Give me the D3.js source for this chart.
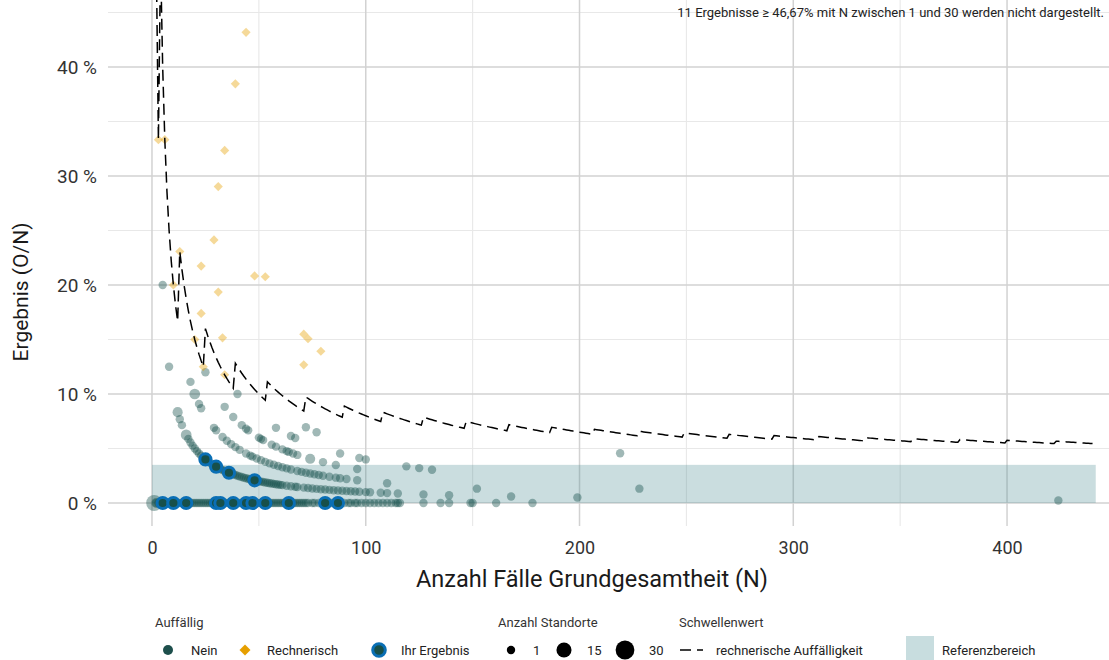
<!DOCTYPE html>
<html>
<head>
<meta charset="utf-8">
<script src="https://cdn.jsdelivr.net/npm/d3@7"></script>
<style>
  body { margin: 0; background: #fff; }
  svg { font-family: Roboto, "Noto Sans", sans-serif; }
</style>
</head>
<body>
<svg id="chart" width="1109" height="660"></svg>
<script>
// ---- data (N = cases, O = events) ----
// "Nein" results, one array per numerator O, listing N
var neinO0 = [2,3,4,6,7,8,9,11,12,13,14,15,17,18,19,20,21,22,23,24,25,26,27,28,29,31,33,34,35,36,37,39,40,41,42,43,45,46,48,49,50,51,52,54,55,56,57,58,59,60,61,62,63,65,66,67,68,69,70,71,72,73,75,76,78,80,82,84,85,88,90,92,93,95,96,98,100,102,104,106,108,110,112,114,115,116,127,135,139,149,150,161,178];
var neinO1 = [5,8,13,14,17,18,19,20,21,22,23,24,26,27,28,29,31,32,33,34,35,37,38,39,40,41,42,43,44,45,46,47,49,50,51,52,53,54,55,56,57,58,59,60,61,63,65,67,68,71,73,75,77,79,81,83,85,87,89,91,93,95,97,100,102,107,110,115,127,139,168,199,424];
var neinO2 = [18,22,23,29,30,33,35,37,39,41,44,46,47,49,51,53,55,57,59,61,63,65,68,70,72,74,76,78,80,83,86,88,91,96,110,152];
var neinO3 = [25,34,38,42,44,45,50,51,52,56,58,61,63,64,66,68,80,86,96,228];
var neinO4 = [40,58,65,67,88,97,100,119,125,131];
var neinO5 = [72,77];
// [N, O, Anzahl Standorte] for the remaining / larger points
var neinExtra = [[1,0,18],[2,0,3],[12,1,3],[16,1,4],[20,2,4],[74,3,3],[219,10,1]];

// "Rechnerisch" auffällige results [N, O]
var rechnerisch = [[3,1],[6,2],[10,2],[13,3],[20,3],[23,4],[23,5],[24,3],[29,7],[31,6],[31,9],[33,5],[34,4],[34,11],[39,15],[44,19],[48,10],[53,11],[71,9],[71,11],[73,11],[79,11]];

// "Ihr Ergebnis" [N, O]
var ihrErgebnis = [[5,0],[10,0],[16,0],[30,0],[32,0],[38,0],[44,0],[47,0],[53,0],[64,0],[81,0],[87,0],[25,1],[30,1],[36,1],[48,1]];

// Schwellenwert: critical count k valid from N = thresholdStartN[i]
var thresholdStartN = [1,4,13,25,39,54,72,90,108,127,147,167,187,207,228,249,270,291,312,334,356,378,400,423];
var thresholdK      = [1,2,3,4,5,6,7,8,9,10,11,12,13,14,15,16,17,18,19,20,21,22,23,24];
var thresholdMaxN = 440;

// Referenzbereich
var refRange = {xmin: 0, xmax: 441.5, ymin: 0, ymax: 0.035};

var xMajor = [0,100,200,300,400], xMinor = [50,150,250,350];
var yMajor = [0,0.1,0.2,0.3,0.4], yMinor = [0.05,0.15,0.25,0.35,0.45];

var sizeLegend = [1,15,30];
var noteText = "11 Ergebnisse \u2265 46,67% mit N zwischen 1 und 30 werden nicht dargestellt.";

// ---- build rows ----
var nein = [];
[neinO0, neinO1, neinO2, neinO3, neinO4, neinO5].forEach(function(arr, o) {
  arr.forEach(function(n) { nein.push({n: n, o: o, s: 1}); });
});
neinExtra.forEach(function(d) { nein.push({n: d[0], o: d[1], s: d[2]}); });

var thresh = [];
for (var n = 1; n <= thresholdMaxN; n++) {
  var i = d3.bisectRight(thresholdStartN, n) - 1;
  thresh.push({n: n, v: thresholdK[i] / n});
}

// ---- layout ----
var svg = d3.select("#chart");
var pLeft = 108, pRight = 1109, pTop = 0, pBottom = 526;

var x = d3.scaleLinear().domain([-20.58, 447.7]).range([pLeft, pRight]);
var y = d3.scaleLinear().domain([-0.0211, 0.4615]).range([pBottom, pTop]);
var r = d3.scaleSqrt().domain([1, 30]).range([4.2, 9.4]);

var teal = "#124e48", orange = "#E69F00", blue = "#0a6fb5";

svg.append("defs").append("clipPath").attr("id", "panel")
  .append("rect").attr("x", pLeft).attr("y", pTop)
  .attr("width", pRight - pLeft).attr("height", pBottom - pTop);

// grid
var grid = svg.append("g");
grid.selectAll(".gxm").data(xMinor).enter().append("line")
  .attr("x1", x).attr("x2", x).attr("y1", pTop).attr("y2", pBottom)
  .attr("stroke", "#e8e8e8").attr("stroke-width", 1.1);
grid.selectAll(".gym").data(yMinor).enter().append("line")
  .attr("x1", pLeft).attr("x2", pRight).attr("y1", y).attr("y2", y)
  .attr("stroke", "#e8e8e8").attr("stroke-width", 1.1);
grid.selectAll(".gx").data(xMajor).enter().append("line")
  .attr("x1", x).attr("x2", x).attr("y1", pTop).attr("y2", pBottom)
  .attr("stroke", "#d2d2d2").attr("stroke-width", 1.5);
grid.selectAll(".gy").data(yMajor).enter().append("line")
  .attr("x1", pLeft).attr("x2", pRight).attr("y1", y).attr("y2", y)
  .attr("stroke", "#d2d2d2").attr("stroke-width", 1.5);

var plot = svg.append("g").attr("clip-path", "url(#panel)");

// Referenzbereich
plot.append("rect")
  .attr("x", x(refRange.xmin)).attr("width", x(refRange.xmax) - x(refRange.xmin))
  .attr("y", y(refRange.ymax)).attr("height", y(refRange.ymin) - y(refRange.ymax))
  .attr("fill", "#4f8f96").attr("opacity", 0.3);

// Nein points
plot.append("g").selectAll("circle").data(nein).enter().append("circle")
  .attr("cx", function(d) { return x(d.n); })
  .attr("cy", function(d) { return y(d.o / d.n); })
  .attr("r", function(d) { return r(d.s); })
  .attr("fill", teal).attr("fill-opacity", 0.4);

// Rechnerisch diamonds
var diamond = d3.symbol().type(d3.symbolSquare).size(42);
plot.append("g").selectAll("path").data(rechnerisch).enter().append("path")
  .attr("d", diamond)
  .attr("transform", function(d) { return "translate(" + x(d[0]) + "," + y(d[1] / d[0]) + ") rotate(45)"; })
  .attr("fill", orange).attr("fill-opacity", 0.4);

// threshold line
plot.append("path").datum(thresh)
  .attr("d", d3.line().x(function(d) { return x(d.n); }).y(function(d) { return y(d.v); }))
  .attr("fill", "none").attr("stroke", "#000").attr("stroke-width", 1.5)
  .attr("stroke-dasharray", "11,6");

// Ihr Ergebnis
plot.append("g").selectAll("circle").data(ihrErgebnis).enter().append("circle")
  .attr("cx", function(d) { return x(d[0]); })
  .attr("cy", function(d) { return y(d[1] / d[0]); })
  .attr("r", 5.6)
  .attr("fill", "#17504a").attr("stroke", blue).attr("stroke-width", 3);

// axes (labels only)
var yAxis = svg.append("g").attr("transform", "translate(" + pLeft + ",0)")
  .call(d3.axisLeft(y).tickValues(yMajor).tickSize(0).tickPadding(11)
    .tickFormat(function(d) { return Math.round(d * 100) + " %"; }));
var xAxis = svg.append("g").attr("transform", "translate(0," + pBottom + ")")
  .call(d3.axisBottom(x).tickValues(xMajor).tickSize(0).tickPadding(15));
[yAxis, xAxis].forEach(function(a) {
  a.select(".domain").remove();
  a.selectAll("text").attr("font-size", 18).attr("fill", "#333")
    .attr("font-family", "Roboto, sans-serif");
});
yAxis.selectAll("text").attr("font-size", 19);

svg.append("text").attr("x", 592).attr("y", 587).attr("text-anchor", "middle")
  .attr("font-size", 23.5).attr("fill", "#1a1a1a")
  .text("Anzahl Fälle Grundgesamtheit (N)");
svg.append("text").attr("transform", "translate(28,292) rotate(-90)")
  .attr("text-anchor", "middle").attr("font-size", 21).attr("fill", "#1a1a1a")
  .text("Ergebnis (O/N)");

svg.append("text").attr("x", 1104).attr("y", 17).attr("text-anchor", "end")
  .attr("font-size", 13).attr("fill", "#222").text(noteText);

// ---- legend ----
var lg = svg.append("g").attr("font-size", 13).attr("fill", "#222");
var ly = 650;
function title(xp, t) {
  lg.append("text").attr("x", xp).attr("y", 627).attr("fill", "#333").text(t);
}
function label(xp, t) {
  lg.append("text").attr("x", xp).attr("y", ly + 4.5).text(t);
}
title(155, "Auffällig");
lg.append("circle").attr("cx", 168).attr("cy", ly).attr("r", 5).attr("fill", "#1d4f4c");
label(191, "Nein");
lg.append("path").attr("d", d3.symbol().type(d3.symbolSquare).size(60))
  .attr("transform", "translate(245," + ly + ") rotate(45)").attr("fill", orange);
label(267, "Rechnerisch");
lg.append("circle").attr("cx", 379).attr("cy", ly).attr("r", 6.3)
  .attr("fill", "#17504a").attr("stroke", blue).attr("stroke-width", 3);
label(401, "Ihr Ergebnis");

title(498, "Anzahl Standorte");
var sizeX = [511, 564, 625], sizeLabelX = [533, 587, 649];
sizeLegend.forEach(function(s, i) {
  lg.append("circle").attr("cx", sizeX[i]).attr("cy", ly).attr("r", r(s)).attr("fill", "#000");
  label(sizeLabelX[i], s);
});

title(679, "Schwellenwert");
lg.append("line").attr("x1", 680).attr("x2", 703).attr("y1", ly).attr("y2", ly)
  .attr("stroke", "#000").attr("stroke-width", 1.5).attr("stroke-dasharray", "11,6");
label(716, "rechnerische Auffälligkeit");

lg.append("rect").attr("x", 906).attr("y", 636).attr("width", 28).attr("height", 28)
  .attr("fill", "#c8dddf");
label(942, "Referenzbereich");
</script>
</body>
</html>
